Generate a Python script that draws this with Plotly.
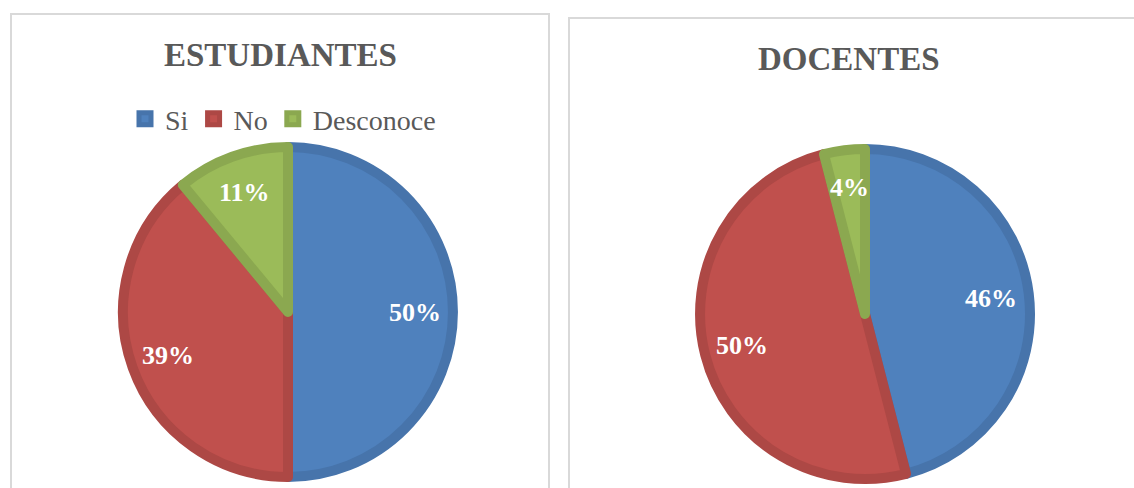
import math
import plotly.graph_objects as go

# --- data ---
labels = ["Si", "No", "Desconoce"]
estudiantes = [50, 39, 11]
docentes = [46, 50, 4]

fill_colors = ["#4F81BD", "#C0504D", "#9BBB59"]
line_colors = ["#4774AB", "#AD4845", "#8BA850"]

W, H = 1134, 488
FONT = "Liberation Serif"
GREY = "#595959"
R = 165


def px_x(v):
    return v / W


def px_y(v):
    # pixel from top -> paper coords
    return 1 - v / H


def pie_domain(cx, cy, r):
    return dict(x=[px_x(cx - r), px_x(cx + r)], y=[px_y(cy + r), px_y(cy - r)])


def make_pie(values, cx, cy, legend):
    return go.Pie(
        labels=labels,
        values=values,
        sort=False,
        direction="clockwise",
        rotation=0,
        domain=pie_domain(cx, cy, R),
        marker=dict(colors=fill_colors, line=dict(color=line_colors, width=10)),
        textinfo="none",
        legend=legend,
        hoverinfo="label+percent",
    )


def add_pct_labels(fig, values, cx, cy):
    # Excel-style labels: placed along the mid-angle of each slice at ~3/4 radius
    total = sum(values)
    start = 0.0
    for v in values:
        mid = (start + v / 2) / total * 2 * math.pi
        start += v
        x = cx + 0.77 * R * math.sin(mid)
        y = cy - 0.77 * R * math.cos(mid)
        fig.add_annotation(text=f"{round(100 * v / total)}%", xref="paper", yref="paper",
                           x=px_x(x), y=px_y(y), xanchor="center", yanchor="middle",
                           showarrow=False,
                           font=dict(family=FONT, size=26, color="white", weight="bold"))


fig = go.Figure()
fig.add_trace(make_pie(estudiantes, 288, 312, "legend"))
fig.add_trace(make_pie(docentes, 865, 314, "legend2"))
add_pct_labels(fig, estudiantes, 288, 312)
add_pct_labels(fig, docentes, 865, 314)

legend_style = dict(
    orientation="h",
    xanchor="center",
    yanchor="middle",
    font=dict(family=FONT, size=28, color=GREY),
    bgcolor="rgba(0,0,0,0)",
    itemclick=False,
    itemdoubleclick=False,
)

fig.update_layout(
    width=W,
    height=H,
    margin=dict(l=0, r=0, t=0, b=0),
    paper_bgcolor="white",
    plot_bgcolor="white",
    legend=dict(x=px_x(283), y=px_y(119), **legend_style),
    legend2=dict(x=px_x(853), y=px_y(122), **legend_style),
)

# panel frames
fig.add_shape(type="rect", xref="paper", yref="paper",
              x0=px_x(11), x1=px_x(549), y0=-0.1, y1=px_y(14),
              line=dict(color="#D9D9D9", width=2), fillcolor="rgba(0,0,0,0)", layer="below")
fig.add_shape(type="rect", xref="paper", yref="paper",
              x0=px_x(569), x1=1.1, y0=-0.1, y1=px_y(18),
              line=dict(color="#D9D9D9", width=2), fillcolor="rgba(0,0,0,0)", layer="below")

# titles
for text, x, y in [("ESTUDIANTES", 280, 55), ("DOCENTES", 849, 59)]:
    fig.add_annotation(text=text, xref="paper", yref="paper", x=px_x(x), y=px_y(y),
                       xanchor="center", yanchor="middle", showarrow=False,
                       font=dict(family=FONT, size=33, color=GREY, weight="bold"))

# drop the default page margin so the figure sits at the window origin
fig.write_html("out.html", config={"displayModeBar": False},
               post_script="document.body.style.margin='0';")
